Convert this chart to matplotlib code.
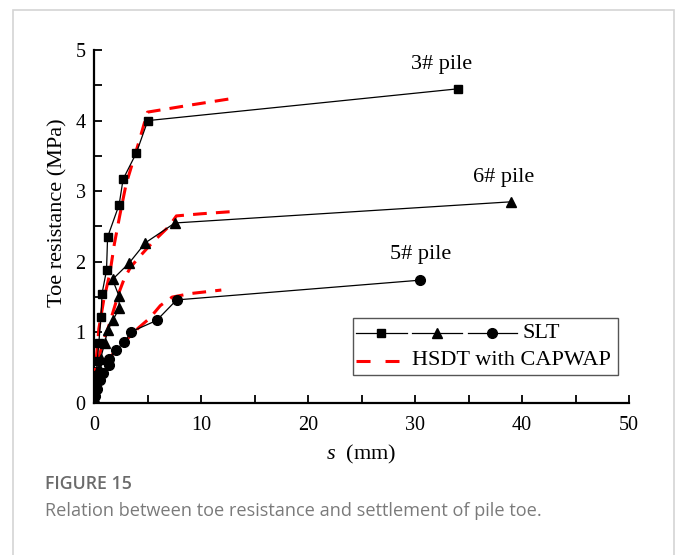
import numpy as np
import matplotlib
matplotlib.use('Agg')
import matplotlib.pyplot as plt
from matplotlib.patches import Rectangle
from matplotlib.ticker import MultipleLocator

# static load test (SLT) curves, s in mm, toe resistance in MPa
slt3_s = [0.0, 0.1, 0.2, 0.3, 0.45, 0.65, 0.75, 1.17, 1.27, 2.35, 2.72, 3.95, 5.03, 34.0]
slt3_q = [0.0, 0.2, 0.4, 0.6, 0.85, 1.22, 1.55, 1.88, 2.35, 2.81, 3.17, 3.54, 4.0, 4.45]

slt6_s = [0.0, 0.1, 0.3, 0.5, 0.62, 1.0, 1.27, 1.79, 2.35, 2.35, 1.73, 3.27, 4.81, 7.56, 39.0]
slt6_q = [0.0, 0.15, 0.35, 0.5, 0.63, 0.85, 1.03, 1.18, 1.34, 1.51, 1.75, 1.98, 2.27, 2.55, 2.85]

slt5_s = [0.0, 0.1, 0.3, 0.55, 0.86, 1.42, 1.42, 2.04, 2.81, 3.49, 5.86, 7.72, 30.5]
slt5_q = [0.0, 0.1, 0.2, 0.32, 0.42, 0.54, 0.63, 0.75, 0.86, 1.01, 1.17, 1.46, 1.74]

# high strain dynamic test with CAPWAP
cap3_s = [0.0, 0.2, 0.45, 0.9, 1.5, 1.9, 2.4, 3.0, 3.6, 4.2, 5.0, 9.0, 13.2]
cap3_q = [0.3, 0.6, 1.05, 1.45, 1.85, 2.25, 2.65, 3.1, 3.4, 3.7, 4.12, 4.22, 4.32]

cap6_s = [0.1, 0.4, 0.8, 1.3, 1.8, 2.3, 2.8, 3.4, 4.3, 5.5, 7.0, 7.7, 10.0, 12.8]
cap6_q = [0.3, 0.6, 0.85, 1.05, 1.3, 1.55, 1.75, 1.92, 2.08, 2.28, 2.5, 2.65, 2.68, 2.71]

cap5_s = [0.0, 0.3, 0.8, 1.5, 2.3, 3.2, 4.2, 5.2, 6.2, 7.3, 9.0, 11.9]
cap5_q = [0.3, 0.45, 0.55, 0.65, 0.78, 0.92, 1.07, 1.2, 1.38, 1.5, 1.55, 1.6]

pile_names = ['3# pile', '6# pile', '5# pile']
pile_label_pos = [(32.5, 4.79), (38.3, 3.19), (30.5, 2.1)]

plt.rcParams['font.family'] = ['Liberation Serif', 'DejaVu Serif']
plt.rcParams['mathtext.fontset'] = 'custom'
plt.rcParams['mathtext.it'] = 'Liberation Serif:italic'
plt.rcParams['mathtext.rm'] = 'Liberation Serif'

fig = plt.figure(figsize=(6.77, 5.55), dpi=100)
ax = fig.add_axes([94 / 677, 1 - 403 / 555, 535 / 677, 353 / 555])

# card border around the figure
fig.patches.append(Rectangle((13 / 677, -0.05), (674 - 13) / 677, 1.05 - 10 / 555,
                             transform=fig.transFigure, fill=False,
                             edgecolor='#d4d4d4', lw=1.2))

red_style = dict(color='#ff0000', lw=2.2, linestyle=(0, (4.5, 3.0)), zorder=3)
black_style = dict(color='black', lw=0.9, zorder=4)

ax.plot(slt3_s, slt3_q, marker='s', ms=6, **black_style)
ax.plot(slt6_s, slt6_q, marker='^', ms=7, **black_style)
ax.plot(slt5_s, slt5_q, marker='o', ms=7, **black_style)
ax.plot(cap3_s, cap3_q, **red_style)
ax.plot(cap6_s, cap6_q, **red_style)
ax.plot(cap5_s, cap5_q, **red_style)

for name, (px, py) in zip(pile_names, pile_label_pos):
    ax.text(px, py, name, fontsize=16, ha='center', va='center')

ax.set_xlim(0, 50)
ax.set_ylim(0, 5)
ax.xaxis.set_major_locator(MultipleLocator(10))
ax.xaxis.set_minor_locator(MultipleLocator(5))
ax.yaxis.set_major_locator(MultipleLocator(1))
ax.yaxis.set_minor_locator(MultipleLocator(0.5))
ax.tick_params(which='both', direction='in', length=5.5, width=1.3, labelsize=14.5)
ax.tick_params(axis='x', pad=9)
ax.tick_params(axis='y', pad=6)
ax.spines['top'].set_visible(False)
ax.spines['right'].set_visible(False)
ax.spines['left'].set_linewidth(1.6)
ax.spines['bottom'].set_linewidth(1.6)

ax.set_xlabel('$s$  (mm)', fontsize=16)
ax.set_ylabel('Toe resistance (MPa)', fontsize=16)
ax.xaxis.set_label_coords(0.499, -0.113)
ax.yaxis.set_label_coords(-0.05, 0.538)

# legend drawn by hand to keep the three SLT samples on one row
def px(x):
    return (x - 94) / 535

ax.add_patch(Rectangle((px(353), 0.079), px(618) - px(353), 0.161,
                       transform=ax.transAxes, fill=False, edgecolor='#555555',
                       lw=1.0, clip_on=False, zorder=5))
row1, row2 = 0.197, 0.119
for (a, b, m), mk in zip([(356, 407, 381), (412, 462, 437), (468, 517, 492)], ['s', '^', 'o']):
    ax.plot([px(a), px(b)], [row1, row1], color='black', lw=0.9,
            transform=ax.transAxes, clip_on=False, zorder=6)
    ax.plot([px(m)], [row1], marker=mk, ms=6 if mk == 's' else 7, color='black',
            transform=ax.transAxes, clip_on=False, zorder=6)
ax.text(px(523), row1, 'SLT', fontsize=16, va='center', ha='left', transform=ax.transAxes)
ax.plot([px(356), px(399)], [row2, row2], color='#ff0000', lw=2.2,
        linestyle=(0, (4.6, 4.9)), transform=ax.transAxes, clip_on=False, zorder=6)
ax.text(px(412), row2, 'HSDT with CAPWAP', fontsize=16, va='center', ha='left',
        transform=ax.transAxes)

fig.text(45 / 677, 1 - 484 / 555, 'FIGURE 15', fontsize=12.8, color='#6b6b6b',
         family=['Open Sans', 'DejaVu Sans'], weight='semibold', va='center')
fig.text(45 / 677, 1 - 511 / 555, 'Relation between toe resistance and settlement of pile toe.',
         fontsize=13.1, color='#7a7a7a', family=['Open Sans', 'DejaVu Sans'], va='center')

fig.savefig('out.png', dpi=100)
